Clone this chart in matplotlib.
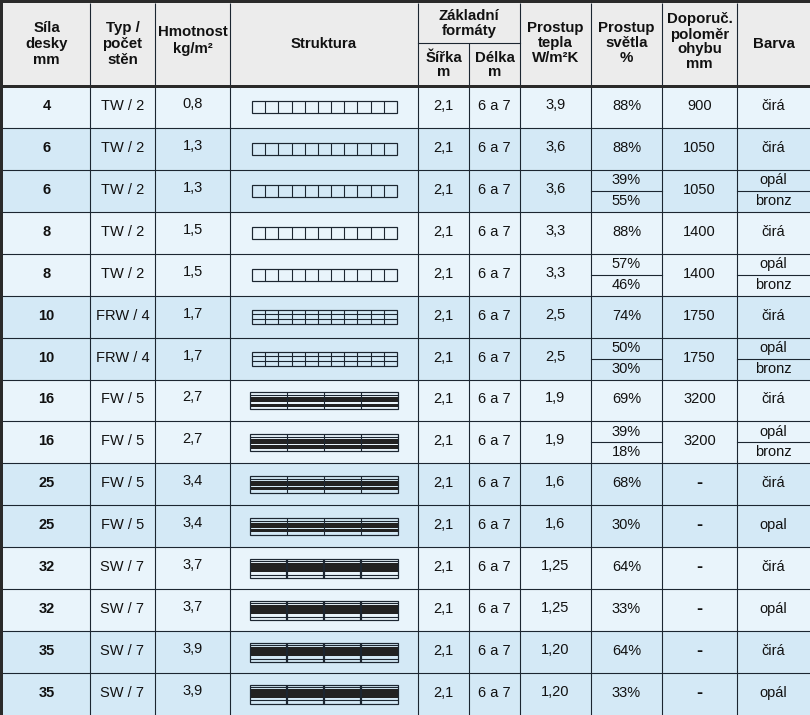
import matplotlib
matplotlib.use('Agg')
import matplotlib.pyplot as plt
from matplotlib.patches import Rectangle

# ---------------- data ----------------
thickness = ['4', '6', '6', '8', '8', '10', '10', '16', '16', '25', '25', '32', '32', '35', '35']
wall_type = ['TW / 2'] * 5 + ['FRW / 4'] * 2 + ['FW / 5'] * 4 + ['SW / 7'] * 4
weight = ['0,8', '1,3', '1,3', '1,5', '1,5', '1,7', '1,7', '2,7', '2,7', '3,4', '3,4', '3,7', '3,7', '3,9', '3,9']
width_m = ['2,1'] * 15
length_m = ['6 a 7'] * 15
heat = ['3,9', '3,6', '3,6', '3,3', '3,3', '2,5', '2,5', '1,9', '1,9', '1,6', '1,6', '1,25', '1,25', '1,20', '1,20']
light = [['88%'], ['88%'], ['39%', '55%'], ['88%'], ['57%', '46%'], ['74%'], ['50%', '30%'],
         ['69%'], ['39%', '18%'], ['68%'], ['30%'], ['64%'], ['33%'], ['64%'], ['33%']]
radius = ['900', '1050', '1050', '1400', '1400', '1750', '1750', '3200', '3200', '-', '-', '-', '-', '-', '-']
colour = [['čirá'], ['čirá'], ['opál', 'bronz'], ['čirá'], ['opál', 'bronz'], ['čirá'], ['opál', 'bronz'],
          ['čirá'], ['opál', 'bronz'], ['čirá'], ['opal'], ['čirá'], ['opál'], ['čirá'], ['opál']]

headers = [
    (['Síla', 'desky', 'mm'], 16),
    (['Typ /', 'počet', 'stěn'], 16),
    (['Hmotnost', 'kg/m²'], 17),
    (['Struktura'], 16),
    (['Šířka', 'm'], 14),
    (['Délka', 'm'], 14),
    (['Prostup', 'tepla', 'W/m²K'], 15),
    (['Prostup', 'světla', '%'], 15),
    (['Doporuč.', 'poloměr', 'ohybu', 'mm'], 15),
    (['Barva'], 16),
]
group_header = ['Základní', 'formáty']

# ---------------- layout ----------------
W, H = 810, 715
col_edges = [3, 90, 155, 230, 418, 469, 520, 591, 662, 737, 810]
header_top, header_split, header_bottom = 3, 43, 86
n_rows = len(thickness)
row_h = (H - header_bottom) / n_rows

LINE = '#1c2631'
FRAME = '#2a2a2a'
HEAD_BG = '#ececec'
ROW_LIGHT = '#e9f4fb'
ROW_BLUE = '#d4e9f6'
FONT = 'Liberation Sans'
FS_HEAD = 10.8
FS_BODY = 10.5
px = 0.72  # 1 pixel in points

fig = plt.figure(figsize=(W / 100, H / 100), dpi=100)
ax = fig.add_axes([0, 0, 1, 1])
ax.set_xlim(0, W)
ax.set_ylim(H, 0)
ax.axis('off')

# frame + header background
ax.add_patch(Rectangle((0, 0), W, H, facecolor=FRAME, edgecolor='none', zorder=0))
ax.add_patch(Rectangle((col_edges[0], header_top), W - col_edges[0], header_bottom - header_top,
                       facecolor=HEAD_BG, edgecolor='none', zorder=1))

# row backgrounds: alternate by plate-thickness group
group_idx = 0
for i in range(n_rows):
    if i > 0 and thickness[i] != thickness[i - 1]:
        group_idx += 1
    c = ROW_LIGHT if group_idx % 2 == 0 else ROW_BLUE
    y0 = header_bottom + i * row_h
    ax.add_patch(Rectangle((col_edges[0], y0), W - col_edges[0], row_h, facecolor=c,
                           edgecolor='none', zorder=1))

# header text
def multiline(xc, yc, lines, spacing, **kw):
    n = len(lines)
    for k, s in enumerate(lines):
        y = yc + (k - (n - 1) / 2) * spacing
        ax.text(xc, y, s, ha='center', va='center', family=FONT, zorder=5, **kw)

for j, (lines, sp) in enumerate(headers):
    xc = (col_edges[j] + col_edges[j + 1]) / 2
    if j in (4, 5):
        yc = (header_split + header_bottom) / 2 + 1
    elif j == 2:
        yc = 41
    elif j == 8:
        yc = 42
    elif j in (6, 7):
        yc = 43
    else:
        yc = 44
    multiline(xc, yc, lines, sp, fontsize=FS_HEAD, fontweight='bold', color='#111111')

multiline((col_edges[4] + col_edges[6]) / 2, (header_top + header_split) / 2 + 1, group_header, 15,
          fontsize=FS_HEAD, fontweight='bold', color='#111111')

# grid lines
lw = 1.1 * px
for j, x in enumerate(col_edges[1:-1], start=1):
    y_start = header_split if j == 5 else header_top
    ax.plot([x, x], [y_start, H], color=LINE, lw=lw, zorder=4, solid_capstyle='butt')
ax.plot([col_edges[4], col_edges[6]], [header_split, header_split], color=LINE, lw=lw, zorder=4)
for i in range(1, n_rows):
    y = header_bottom + i * row_h
    ax.plot([col_edges[0], W], [y, y], color=LINE, lw=lw, zorder=4)
ax.add_patch(Rectangle((col_edges[0], header_bottom - 1.5), W, 3, facecolor=FRAME, edgecolor='none', zorder=4))

# structure drawings
def structure(kind, yc):
    x0, x1 = col_edges[3], col_edges[4]
    if kind == 'TW':
        l, r, h, ncell, hl, bands, vlw = x0 + 22, x1 - 21, 12, 11, [], [], 1.1
    elif kind == 'FRW':
        l, r, h, ncell, hl, bands, vlw = x0 + 22, x1 - 21, 14, 11, [0.33, 0.66], [], 1.1
    elif kind == 'FW':
        l, r, h, ncell, hl, bands, vlw = x0 + 20, x1 - 20, 17, 4, [0.2], [(0.32, 0.6), (0.68, 0.86)], 1.1
    else:
        l, r, h, ncell, hl, bands, vlw = x0 + 20, x1 - 20, 19, 4, [0.14, 0.84], [(0.25, 0.72)], 2.2
    top = yc - h / 2
    for f in hl:
        ax.plot([l, r], [top + f * h] * 2, color=LINE, lw=1.1 * px, zorder=6, solid_capstyle='butt')
    for a, b in bands:
        ax.add_patch(Rectangle((l, top + a * h), r - l, (b - a) * h, facecolor='#222222',
                               edgecolor='none', zorder=6))
    for k in range(1, ncell):
        x = l + k * (r - l) / ncell
        ax.plot([x, x], [top, top + h], color=LINE, lw=vlw * px, zorder=7, solid_capstyle='butt')
    ax.add_patch(Rectangle((l, top), r - l, h, facecolor='none', edgecolor=LINE, lw=1.2 * px, zorder=7))

def cx(j):
    return (col_edges[j] + col_edges[j + 1]) / 2

body_kw = dict(ha='center', va='center', family=FONT, fontsize=FS_BODY, color='#111111', zorder=5)
for i in range(n_rows):
    y0 = header_bottom + i * row_h
    yc = y0 + row_h / 2 - 1
    ax.text(cx(0), yc, thickness[i], fontweight='bold', **body_kw)
    ax.text(cx(1), yc, wall_type[i], **body_kw)
    ax.text(cx(2), yc - 2, weight[i], **body_kw)
    structure(wall_type[i].split()[0], yc + 1)
    ax.text(cx(4), yc, width_m[i], **body_kw)
    ax.text(cx(5), yc, length_m[i], **body_kw)
    ax.text(cx(6), yc - 1, heat[i], **body_kw)
    if radius[i] == '-':
        kw = dict(body_kw, fontsize=13)
        ax.text(cx(8), yc, radius[i], fontweight='heavy', **kw)
    else:
        ax.text(cx(8), yc, radius[i], **body_kw)
    for j, vals in ((7, light[i]), (9, colour[i])):
        if len(vals) == 1:
            ax.text(cx(j), yc, vals[0], **body_kw)
        else:
            ym = y0 + row_h / 2
            ax.plot([col_edges[j], col_edges[j + 1]], [ym, ym], color=LINE, lw=lw, zorder=4)
            ax.text(cx(j), y0 + row_h * 0.25, vals[0], **body_kw)
            ax.text(cx(j), y0 + row_h * 0.74, vals[1], **body_kw)

fig.savefig('out.png', dpi=100)
